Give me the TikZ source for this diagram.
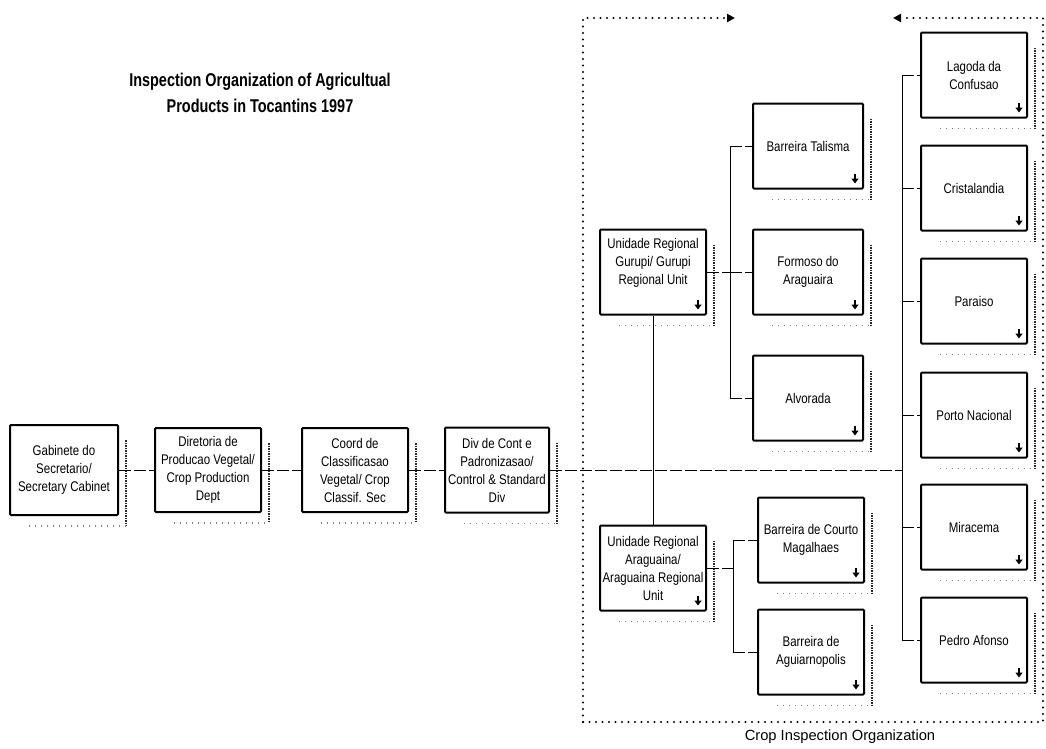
\documentclass[tikz,border=0pt]{standalone}
\usepackage{fontspec}
\setmainfont{Liberation Sans}
\newfontfamily\narrowfont{Liberation Sans}[FakeStretch=0.82]
\newfontfamily\titlefont{Liberation Sans}[FakeStretch=0.78]
\usetikzlibrary{arrows.meta}

\begin{document}
\begin{tikzpicture}[x=1pt,y=-1pt]
\tikzstyle{unit}=[rectangle, draw=black, line width=2pt, rounded corners=1pt, fill=white, minimum width=106pt, minimum height=85pt, align=center, inner sep=0pt, font=\narrowfont\fontsize{14}{18}\selectfont]
\tikzstyle{link}=[line width=1pt]
\tikzstyle{hlink}=[line width=1pt, dash pattern=on 12pt off 3pt]
\tikzstyle{frame}=[line width=2.4pt, line cap=round, dash pattern=on 0pt off 6.5pt]
\tikzstyle{shade}=[line width=2pt, black!85, dash pattern=on 1.5pt off 1pt]
\tikzstyle{shadebot}=[line width=1.3pt, black!50, dash pattern=on 1pt off 5pt]
\tikzstyle{more}=[-{Triangle[length=5pt,width=7pt]}, line width=2pt]

\useasboundingbox (0,0) rectangle (1046,748);

\node[align=center, font=\titlefont\bfseries\fontsize{18.5}{26}\selectfont] (title) at (260,93) {Inspection Organization of Agricultual\\Products in Tocantins 1997};

% chain of departments
\node[unit, minimum width=108pt, minimum height=90pt] (gab) at (64,470) {Gabinete do\\Secretario/\\Secretary Cabinet};
\node[unit, minimum height=84pt] (dir) at (208,470) {Diretoria de\\Producao Vegetal/\\Crop Production\\Dept};
\node[unit, minimum height=84pt] (coo) at (355,470) {Coord de\\Classificasao\\Vegetal/ Crop\\Classif. Sec};
\node[unit, minimum width=104pt] (div) at (497,470) {Div de Cont e\\Padronizasao/\\Control \& Standard\\Div};

% regional units
\node[unit] (gur) at (653,272) {Unidade Regional\\Gurupi/ Gurupi\\Regional Unit\\[4pt]};
\node[unit] (ara) at (653,568) {Unidade Regional\\Araguaina/\\Araguaina Regional\\Unit};

\node[unit, minimum width=110pt] (bir) at (808,146) {Barreira Talisma};
\node[unit, minimum width=110pt] (frm) at (808,272) {Formoso do\\Araguaira};
\node[unit, minimum width=110pt] (alv) at (808,398) {Alvorada};
\node[unit] (bcm) at (811,540) {Barreira de Courto\\Magalhaes};
\node[unit] (bag) at (811,652) {Barreira de\\Aguiarnopolis};

\node[unit] (lag) at (974,75) {Lagoda da\\Confusao};
\node[unit] (cri) at (974,188) {Cristalandia};
\node[unit] (par) at (974,301) {Paraiso};
\node[unit] (por) at (974,415) {Porto Nacional};
\node[unit] (mir) at (974,527) {Miracema};
\node[unit] (ped) at (974,640) {Pedro Afonso};

% shadows and markers
\foreach \n in {gab,dir,coo,div,gur,ara,bir,frm,alv,bcm,bag,lag,cri,par,por,mir,ped}{
  \draw[shade] ([shift={(7,16)}]\n.north east) -- ([shift={(7,10)}]\n.south east);
  \draw[shadebot] ([shift={(20,10)}]\n.south west) -- ([shift={(7,10)}]\n.south east);
}
\foreach \n in {gur,ara,bir,frm,alv,bcm,bag,lag,cri,par,por,mir,ped}
  \draw[more] ([shift={(-9,-16)}]\n.south east) -- ++(0,10);

% connectors
\coordinate (g_bus) at (730,0);
\coordinate (a_bus) at (733,0);
\coordinate (r_bus) at (902,0);

\draw[hlink] (gab) -- (dir);
\draw[hlink] (dir) -- (coo);
\draw[hlink] (coo) -- (div);
\draw[hlink] (div) -- (r_bus |- div);
\draw[link] (gur) -- (ara);

\draw[hlink] (gur) -- (g_bus |- gur);
\draw[link] (g_bus |- bir) -- (g_bus |- alv);
\foreach \n in {bir,frm,alv}
  \draw[hlink] (g_bus |- \n) -- (\n.west);

\draw[hlink] (ara) -- (a_bus |- ara);
\draw[link] (a_bus |- bcm) -- (a_bus |- bag);
\foreach \n in {bcm,bag}
  \draw[hlink] (a_bus |- \n) -- (\n.west);

\draw[link] (r_bus |- lag) -- (r_bus |- ped);
\foreach \n in {lag,cri,par,por,mir,ped}
  \draw[hlink] (r_bus |- \n) -- (\n.west);

% frame of the crop inspection organization
\coordinate (f_nw) at (583,18);
\coordinate (f_ne) at (1043,18);
\coordinate (f_sw) at (583,722);
\coordinate (f_se) at (1043,722);
\coordinate (f_a) at (735,18);
\coordinate (f_b) at (893,18);
\draw[frame, -{Triangle[length=8pt,width=8pt]}] (f_sw) -- (f_nw) -- (f_a);
\draw[frame, -{Triangle[length=8pt,width=8pt]}] (f_sw) -- (f_se) -- (f_ne) -- (f_b);
\node[font=\fontsize{14.7}{18}\selectfont] (cap) at (840,737) {Crop Inspection Organization};
\end{tikzpicture}
\end{document}
